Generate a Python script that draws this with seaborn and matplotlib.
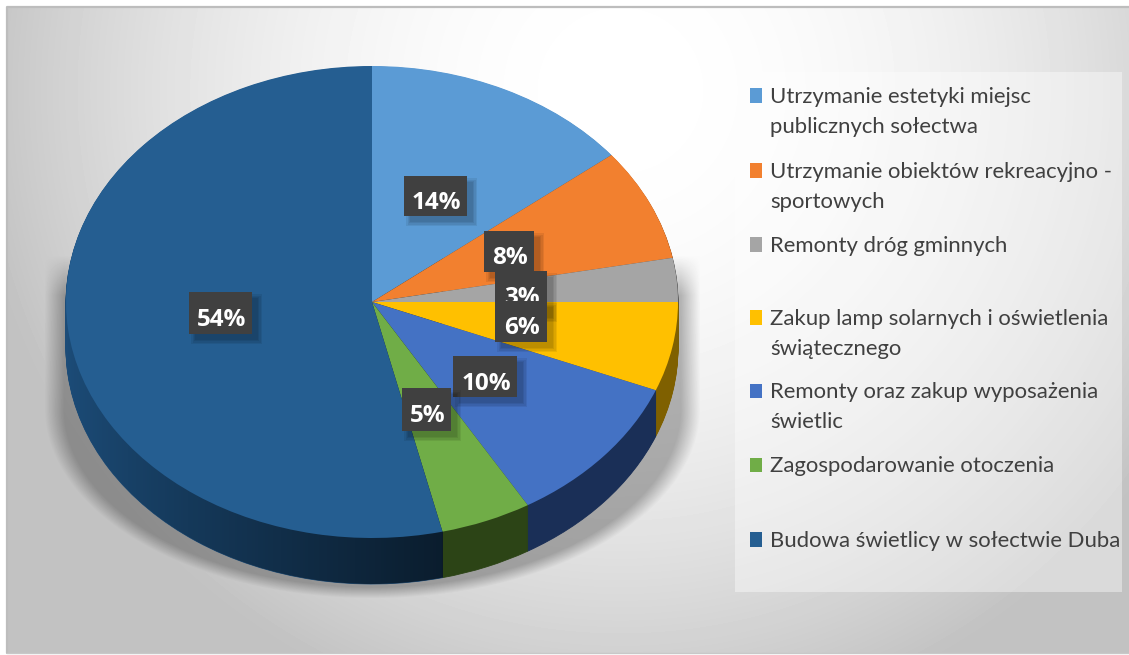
import numpy as np
import matplotlib
matplotlib.use("Agg")
import matplotlib.pyplot as plt
from matplotlib.patches import Rectangle, Ellipse
import seaborn as sns

categories = ["Utrzymanie estetyki miejsc\npublicznych sołectwa",
              "Utrzymanie obiektów rekreacyjno -\nsportowych",
              "Remonty dróg gminnych",
              "Zakup lamp solarnych i oświetlenia\nświątecznego",
              "Remonty oraz zakup wyposażenia\nświetlic",
              "Zagospodarowanie otoczenia",
              "Budowa świetlicy w sołectwie Duba"]
values = [14.3, 7.7, 3.0, 6.1, 10.4, 4.8, 53.7]
top_colors = ["#5B9BD5", "#F2802F", "#A5A5A5", "#FFC000", "#4472C4", "#70AD47", "#255E91"]
side_colors = ["#2E4E6B", "#7A4018", "#555555", "#7F6000", "#1A2F57", "#2C4416", "#1C4C78"]

# layout (pixels)
W, H = 1129, 655
CX, CY, RX, RY, DEPTH = 372, 302, 306, 236, 46
legend_y = [95, 170, 244, 317, 390.5, 464.5, 539]
label_xy = [(404, 176, 63, 40), (484, 231, 50, 41), (495, 271, 52, 41), (495, 301, 52, 41),
            (453, 356, 64, 41), (402, 388, 49, 43), (189, 292, 63, 42)]

sns.set_theme(style="white")
plt.rcParams["font.family"] = ["Lato", "DejaVu Sans"]
palette = sns.color_palette(top_colors)
side_palette = sns.color_palette(side_colors)

fig = plt.figure(figsize=(W / 100, H / 100), dpi=100, facecolor="white")

# background with gradient and soft shadow
bg = fig.add_axes([0, 0, 1, 1])
bg.axis("off")
yy, xx = np.mgrid[0:H, 0:W]
grey = np.clip(1.0 - 5.7e-7 * ((xx - 620.0) ** 2 + (yy - 90.0) ** 2), 0.76, 1)
e = np.hypot((xx - 372) / 328, np.maximum(yy - 408, 0) / 190)
sh = np.clip((1.0 - e) / 0.06, 0, 1) * np.clip((yy - 255) / 40, 0, 1) * (yy < 598)
grey = grey * (1 - 0.28 * sh)
bg.imshow(grey[7:653, 6:1129], cmap="gray", vmin=0, vmax=1, extent=(6, 1129, 653, 7), aspect="auto",
          zorder=2, interpolation="bilinear")
bg.set_xlim(0, W); bg.set_ylim(H, 0)
bg.plot([7, 7, 1129], [653, 7, 7], color="#bdbdbd", lw=1.6, zorder=3)
bg.plot([7, 1129], [653, 653], color="#c8c8c8", lw=1, zorder=3)

# pie
ax = fig.add_axes([0, 0, 1, 1])
ax.patch.set_alpha(0)
for k in range(DEPTH, 0, -1):
    w, _ = ax.pie(values, colors=side_palette, startangle=90, counterclock=False,
                  center=(0, -k / RY), radius=1, wedgeprops=dict(linewidth=0.6))
    for p, c in zip(w, side_palette):
        p.set_edgecolor(c)
        p.set_zorder(1)
top, _ = ax.pie(values, colors=palette, startangle=90, counterclock=False, center=(0, 0), radius=1,
                wedgeprops=dict(linewidth=0))
ax.set_aspect("auto")
ax.set_xlim(-CX / RX, (W - CX) / RX)
ax.set_ylim(-(H - CY) / RY, CY / RY)

# darkening towards the front on the side of the largest slice
boundary = np.sin(2 * np.pi * sum(values[:-1]) / sum(values))
rgba = np.zeros((1, 256, 4))
rgba[..., 3] = 0.62 * np.linspace(0, 1, 256) ** 0.8
im = ax.imshow(rgba, extent=(-1, boundary, -1.3, 1), aspect="auto", zorder=1.5, interpolation="bilinear")
clip = Ellipse((0, -DEPTH / RY), 2, 2, transform=ax.transData)
im.set_clip_path(clip)
for p in top:
    p.set_zorder(2)
ax.set_xlim(-CX / RX, (W - CX) / RX)
ax.set_ylim(-(H - CY) / RY, CY / RY)
ax.axis("off")

# overlay
ov = fig.add_axes([0, 0, 1, 1])
ov.set_xlim(0, W); ov.set_ylim(H, 0); ov.axis("off"); ov.patch.set_alpha(0)

ov.add_patch(Rectangle((735, 72), 387, 520, fc="white", alpha=0.4, ec="none"))
for name, y, c in zip(categories, legend_y, palette):
    ov.add_patch(Rectangle((750, y - 7), 12, 14.5, fc=c, ec="none"))
    for i, line in enumerate(name.split("\n")):
        ov.text(770, y + 2 + i * 30, line, fontsize=15.9, color="#404040", va="center", ha="left")

for i, (v, (x, y, w, h)) in enumerate(zip(values, label_xy)):
    z = 5 + i * 0.1
    for grow in (4, 2.5, 1, 0):
        ov.add_patch(Rectangle((x + 6 - grow, y + 6 - grow), w + 2 * grow, h + 2 * grow, fc="black",
                               alpha=0.07, ec="none", zorder=z))
    ov.add_patch(Rectangle((x, y), w, h, fc="#404040", ec="none", zorder=z + 0.01))
    ov.text(x + w / 2 + 1, y + h / 2 + 7, f"{v:.0f}%", color="white", fontsize=17.5, fontweight="bold",
            family=["Open Sans", "DejaVu Sans"], ha="center", va="center", zorder=z + 0.02)

fig.savefig("out.png", dpi=100, facecolor="white")
